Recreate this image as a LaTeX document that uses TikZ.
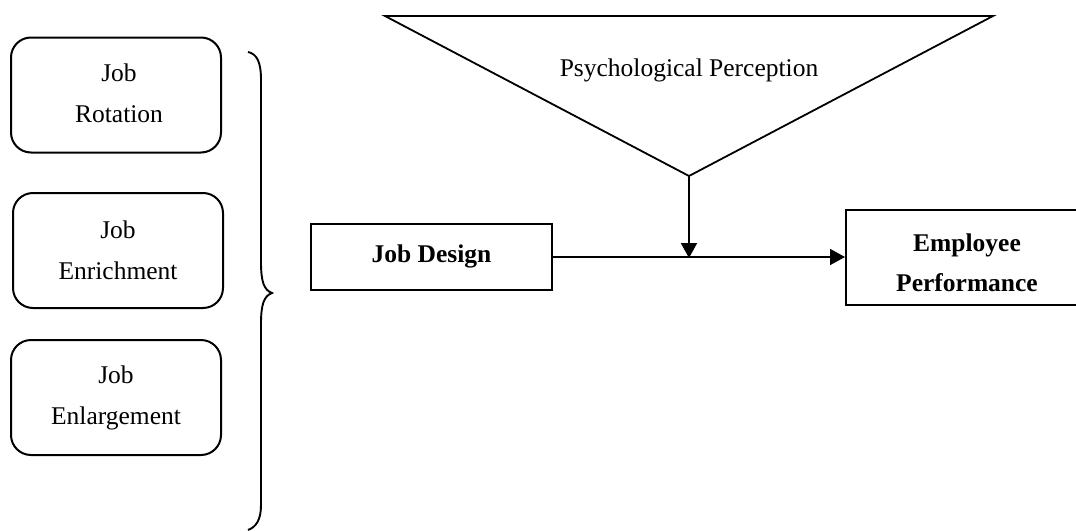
\documentclass[tikz,border=0pt]{standalone}
\usepackage{fontspec}
\setmainfont{Liberation Serif}
\usetikzlibrary{arrows.meta}
\begin{document}
\begin{tikzpicture}[x=1pt,y=-1pt,line width=2pt,
  txt/.style={font=\fontsize{25.5}{41}\selectfont,align=center,inner sep=0pt},
  rbox/.style={draw,rounded corners=20pt,minimum width=210pt,minimum height=115pt,inner sep=0pt},
  sbox/.style={draw,inner sep=0pt},
  conn/.style={-{Triangle[length=15pt,width=16pt]},line width=1.8pt}]
\useasboundingbox (0,0) rectangle (1076,530);
% left rounded boxes
\node[rbox] (rot) at (116,95) {};
\node[txt] (rott) at (119,93.5) {Job\\Rotation};
\node[rbox] (enr) at (118,250.5) {};
\node[txt] (enrt) at (118,250.5) {Job\\Enrichment};
\node[rbox] (enl) at (116,397.5) {};
\node[txt] (enlt) at (116,397.5) {Job\\Enlargement};
% brace
\draw[line width=1.9pt] (248,52) .. controls (257,54) and (261,62) .. (261,80) -- (261,262)
  .. controls (261,282) and (264,290) .. (272,293)
  .. controls (264,296) and (261,304) .. (261,324) -- (261,505)
  .. controls (261,520) and (256,527) .. (248,530);
% triangle
\coordinate (tl) at (385,16);
\coordinate (tr) at (993,16);
\coordinate (apex) at (689,176);
\draw[line width=1.8pt,line join=miter] (tl) -- (tr) -- (apex) -- cycle;
\node[txt] (pp) at (689,70) {Psychological Perception};
% boxes
\node[sbox,minimum width=241pt,minimum height=66pt] (jd) at (431.5,257) {};
\node[txt,font=\fontsize{25.5}{41}\selectfont\bfseries] (jdt) at (431.5,256) {Job Design};
\node[sbox,minimum width=232pt,minimum height=95pt] (ep) at (962,257) {};
\node[txt,font=\fontsize{25.5}{40}\selectfont\bfseries] (ept) at (967,263) {Employee\\Performance};
% connectors
\coordinate (junc) at (689,258);
\draw[conn] (jd.east) -- (ep.west);
\draw[conn] (apex) -- (junc);
\end{tikzpicture}
\end{document}
